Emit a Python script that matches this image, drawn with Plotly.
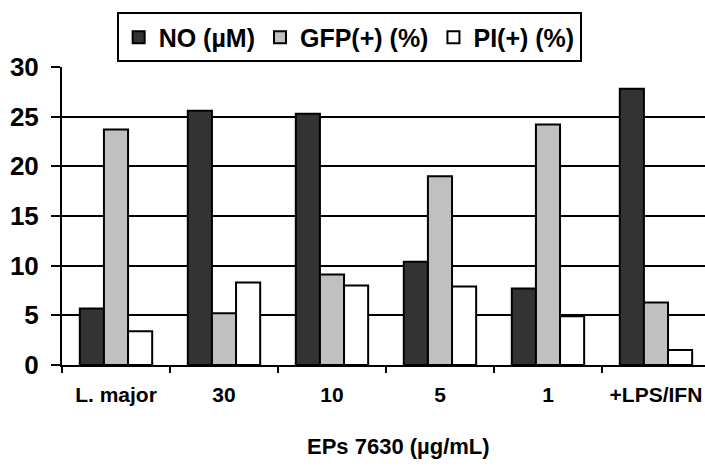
import plotly.graph_objects as go

categories = ["L. major", "30", "10", "5", "1", "+LPS/IFN"]
no_vals = [5.7, 25.6, 25.3, 10.4, 7.7, 27.8]
gfp_vals = [23.7, 5.2, 9.1, 19.0, 24.2, 6.3]
pi_vals = [3.4, 8.3, 8.0, 7.9, 4.9, 1.5]
series_names = ["NO (µM)", "GFP(+) (%)", "PI(+) (%)"]
y_ticks = [0, 5, 10, 15, 20, 25, 30]
x_title = "EPs 7630 (µg/mL)"

FONT = "Liberation Sans, Arial, sans-serif"
colors = ["#333333", "#c0c0c0", "#ffffff"]

fig = go.Figure()
for name, vals, col in zip(series_names, [no_vals, gfp_vals, pi_vals], colors):
    fig.add_trace(go.Bar(
        x=categories, y=vals, name=name,
        marker=dict(color=col, line=dict(color="black", width=2)),
    ))

fig.add_annotation(
    text=x_title, xref="paper", yref="paper",
    x=0.523, y=-0.275, xanchor="center", yanchor="middle",
    showarrow=False, font=dict(size=22, family=FONT, weight="bold", color="black"),
)

fig.update_layout(
    width=705, height=472,
    barmode="group", bargap=0.33, bargroupgap=0,
    plot_bgcolor="white", paper_bgcolor="white",
    margin=dict(l=62, r=0, t=67, b=107, autoexpand=False),
    font=dict(family=FONT, color="black"),
    legend=dict(
        orientation="h",
        x=0.085, xanchor="left", y=1.183, yanchor="top",
        bordercolor="black", borderwidth=2,
        font=dict(size=25, family=FONT, weight="bold"),
        itemwidth=30, tracegroupgap=0,
    ),
    xaxis=dict(
        range=[-0.5, 5.454], automargin=False,
        showline=True, linecolor="black", linewidth=2,
        ticks="outside", tickson="boundaries", ticklen=6, tickwidth=2, tickcolor="black",
        ticklabelstandoff=10,
        tickfont=dict(size=21, family=FONT, weight="bold"),
        showgrid=False,
    ),
    yaxis=dict(
        range=[0, 30], tickvals=y_ticks, automargin=False,
        showline=True, linecolor="black", linewidth=2,
        ticks="outside", ticklen=9, tickwidth=2, tickcolor="black",
        ticklabelstandoff=7,
        tickfont=dict(size=26, family=FONT, weight="bold"),
        showgrid=True, gridcolor="black", gridwidth=2,
        zeroline=False,
    ),
)

fig.write_html(
    "out.html",
    config={"displayModeBar": False},
    post_script="document.body.style.margin='0';document.body.style.overflow='hidden';",
)
